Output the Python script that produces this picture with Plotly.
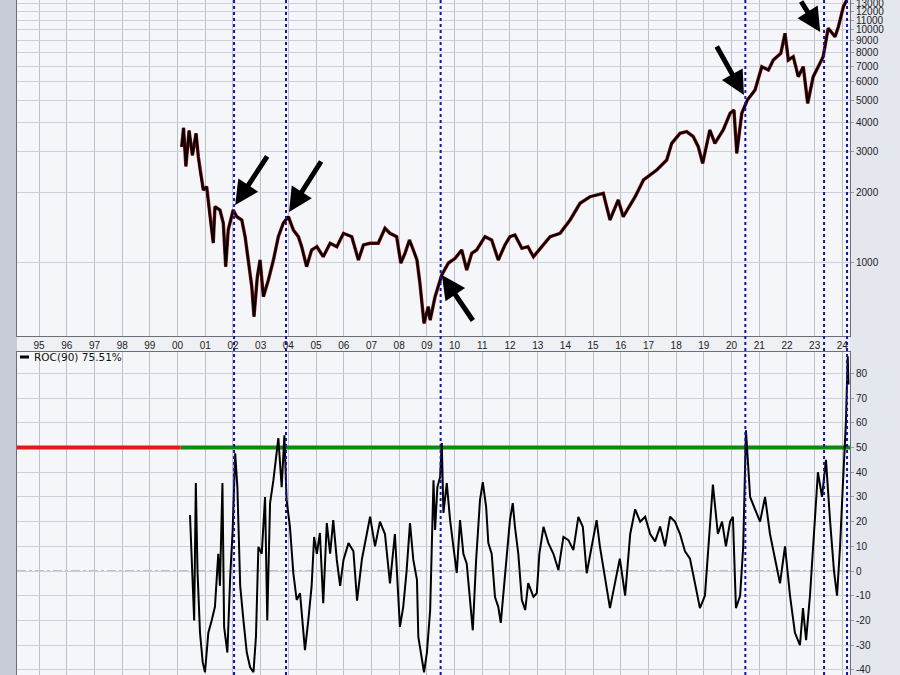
import math
import plotly.graph_objects as go

# ---------------- data ----------------
price_dates = [
    "2000-02-24", "2000-03-20", "2000-04-20", "2000-06-01", "2000-07-15", "2000-09-01",
    "2000-10-01", "2000-10-23", "2000-12-06", "2001-01-19", "2001-03-04", "2001-04-16",
    "2001-05-08", "2001-07-13", "2001-08-26", "2001-09-27", "2001-10-30", "2002-01-04",
    "2002-02-21", "2002-04-27", "2002-06-10", "2002-07-24", "2002-09-06", "2002-10-05",
    "2002-11-18", "2002-12-24", "2003-02-06", "2003-04-13", "2003-06-18", "2003-08-22",
    "2003-10-27", "2004-01-01", "2004-03-07", "2004-05-12", "2004-06-25", "2004-08-29",
    "2004-11-03", "2005-01-11", "2005-04-05", "2005-07-05", "2005-10-01", "2005-12-28",
    "2006-04-16", "2006-07-13", "2006-09-17", "2006-12-14", "2007-04-01", "2007-06-28",
    "2007-09-02", "2007-11-29", "2008-01-23", "2008-03-18", "2008-05-16", "2008-07-06",
    "2008-08-23", "2008-10-01", "2008-11-24", "2009-01-19", "2009-02-13", "2009-04-19",
    "2009-07-16", "2009-10-12", "2010-01-08", "2010-04-05", "2010-06-10", "2010-08-15",
    "2010-10-19", "2011-02-06", "2011-05-05", "2011-07-31", "2011-10-27", "2012-01-01",
    "2012-03-07", "2012-06-06", "2012-08-25", "2012-11-06", "2013-02-03", "2013-06-14",
    "2013-10-23", "2014-03-04", "2014-07-13", "2014-11-21", "2015-05-16", "2015-08-12",
    "2015-11-29", "2016-02-03", "2016-07-09", "2016-10-27", "2017-04-20", "2017-08-29",
    "2017-11-03", "2018-02-21", "2018-05-19", "2018-08-15", "2018-10-19", "2018-12-16",
    "2019-03-21", "2019-05-26", "2019-09-13", "2019-12-13", "2020-02-02", "2020-03-10",
    "2020-05-15", "2020-07-27", "2020-11-06", "2021-02-03", "2021-05-01", "2021-07-05",
    "2021-10-12", "2021-12-06", "2022-01-19", "2022-03-25", "2022-05-30", "2022-08-04",
    "2022-10-01", "2022-12-13", "2023-02-17", "2023-04-23", "2023-06-28", "2023-09-27",
    "2023-11-10", "2024-01-15", "2024-02-28",
]
price_values = [
    3150, 3800, 2600, 3700, 2900, 3600,
    2858, 2507, 2057, 2126, 1580, 1218,
    1745, 1688, 1485, 964, 1386, 1688,
    1580, 1530, 1297, 1000, 791, 588,
    873, 1030, 717, 846, 1030, 1297,
    1485, 1580, 1386, 1297, 1175, 964,
    1137, 1175, 1064, 1215, 1175, 1341,
    1297, 1030, 1195, 1215, 1215, 1409,
    1341, 1297, 1000, 1100, 1255, 1137,
    1030, 818, 551, 649, 569, 717,
    888, 1000, 1047, 1137, 933, 1100,
    1137, 1297, 1255, 1030, 1195, 1297,
    1319, 1156, 1175, 1064, 1156, 1297,
    1341, 1530, 1804, 1925, 1991, 1530,
    1864, 1580, 1925, 2271, 2507, 2767,
    3264, 3603, 3660, 3483, 3157, 2679,
    3722, 3264, 3722, 4390, 4535, 2957,
    4390, 5006, 5527, 6959, 6734, 7434,
    7943, 9679, 7434, 7682, 6304, 6959,
    4847, 6304, 6959, 7682, 10170, 9359,
    10332, 12589, 13450,
]

roc_dates = [
    "2000-06-13", "2000-07-13", "2000-08-07", "2000-08-29", "2000-09-20", "2000-10-23",
    "2000-11-28", "2000-12-28", "2001-02-10", "2001-03-26", "2001-05-08", "2001-06-21",
    "2001-07-13", "2001-08-15", "2001-09-06", "2001-10-19", "2001-11-25", "2001-12-28",
    "2002-01-30", "2002-02-28", "2002-04-06", "2002-05-19", "2002-07-02", "2002-08-15",
    "2002-09-28", "2002-10-31", "2002-12-02", "2003-01-15", "2003-02-28", "2003-03-29",
    "2003-05-05", "2003-06-18", "2003-07-24", "2003-08-22", "2003-10-05", "2003-11-10",
    "2003-12-09", "2004-01-22", "2004-03-07", "2004-04-20", "2004-06-03", "2004-07-16",
    "2004-08-07", "2004-09-20", "2004-11-03", "2004-12-06", "2005-01-11", "2005-02-20",
    "2005-04-05", "2005-05-22", "2005-07-05", "2005-08-15", "2005-10-01", "2005-11-14",
    "2005-12-28", "2006-03-04", "2006-05-08", "2006-06-25", "2006-08-29", "2006-12-14",
    "2007-02-17", "2007-04-23", "2007-06-28", "2007-09-02", "2007-11-06", "2008-01-11",
    "2008-02-24", "2008-04-08", "2008-05-23", "2008-07-06", "2008-08-23", "2008-09-10",
    "2008-10-27", "2008-11-24", "2009-01-01", "2009-02-13", "2009-03-29", "2009-04-19",
    "2009-05-19", "2009-06-24", "2009-07-16", "2009-08-07", "2009-09-20", "2009-11-03",
    "2009-12-17", "2010-01-30", "2010-03-14", "2010-04-27", "2010-06-10", "2010-07-24",
    "2010-08-29", "2010-10-12", "2010-12-02", "2011-01-08", "2011-02-21", "2011-03-22",
    "2011-05-05", "2011-06-18", "2011-07-31", "2011-09-02", "2011-10-05", "2011-11-18",
    "2012-01-01", "2012-02-07", "2012-03-07", "2012-04-20", "2012-06-06", "2012-07-20",
    "2012-08-29", "2012-11-06", "2012-12-20", "2013-01-23", "2013-03-18", "2013-05-22",
    "2013-07-27", "2013-10-01", "2013-12-06", "2014-02-10", "2014-04-16", "2014-06-21",
    "2014-08-19", "2014-10-09", "2014-12-13", "2015-02-17", "2015-04-01", "2015-08-12",
    "2015-10-16", "2015-12-20", "2016-02-28", "2016-05-05", "2016-07-09", "2016-09-13",
    "2016-11-18", "2017-01-23", "2017-03-29", "2017-06-03", "2017-08-07", "2017-10-12",
    "2017-12-16", "2018-02-21", "2018-04-27", "2018-07-02", "2018-09-06", "2018-11-10",
    "2019-01-15", "2019-03-21", "2019-04-30", "2019-07-05", "2019-08-29", "2019-10-19",
    "2019-12-13", "2020-01-19", "2020-02-28", "2020-04-23", "2020-06-03", "2020-07-09",
    "2020-09-02", "2020-11-06", "2021-01-11", "2021-03-18", "2021-05-22", "2021-07-27",
    "2021-10-01", "2021-12-06", "2022-02-10", "2022-04-16", "2022-06-21", "2022-07-31",
    "2022-09-10", "2022-10-31", "2023-01-04", "2023-02-13", "2023-04-08", "2023-05-30",
    "2023-07-24", "2023-09-13", "2023-10-23", "2023-12-02", "2024-01-08", "2024-02-17",
    "2024-03-12", "2024-03-22",
]
roc_values = [
    22.7, 3, -20, 35.6, 0, -25,
    -37, -41, -25, -20, -14.5, 7,
    -6, 35.6, -22.6, -33, -2.4, 16.6,
    47.7, 34, -6, -20, -33, -39,
    -41, -26.6, 9.8, 7, 30, -20,
    27.5, 36.8, 46, 53.8, 34, 55,
    28.7, 17.9, -0.9, -11.7, -9, -22.6,
    -32, -20, -6, 13.8, 7, 15.4,
    -13, 19.4, 7, 20.6, 4.5, -6,
    4.5, 11.3, 8, -12, 5, 22,
    10, 20, 15, -5, 15, -22.6,
    -14.5, 0, 19.4, 4.5, -3.6, -26.7,
    -36, -41, -33, -15.8, 36.8, 16.6,
    34, 38, 51.8, 23.5, 35.6, 20.6,
    9.7, -0.8, 20.6, 7, 3, -10.5,
    -24, 4.5, 28.7, 36, 26, 11.3,
    7, -10.5, -14.5, -21, -9, 4.5,
    20.6, 27.5, 17.9, 7, -11.7, -15.8,
    -4.9, -10.5, -9, 7, 17.9, 11.3,
    7, 0.4, 13.8, 12.5, 8.5, 21.9,
    17.9, -0.9, 9.7, 20.6, 10, -15,
    -5, 5, -10, 15, 25, 20,
    22, 15, 12, 18, 10, 22,
    20, 15, 8, 5, -5, -15,
    -10, 18, 35, 15, 20, 10,
    20, 22, -15, -10, 10, 57,
    30, 25, 20, 30, 15, 5,
    -5, 10, -10, -25, -30, -15,
    -28, -10, 20, 40, 30, 45,
    20, 0, -10, 10, 35, 60,
    87, 75.51,
]

signal_dates = ["2002-01-15", "2003-12-01", "2009-07-01", "2020-07-01", "2023-05-05", "2024-03-03"]

arrow_dates = ["2002-01-30", "2004-01-10", "2009-07-18", "2020-06-12", "2023-03-15"]
arrow_prices = [1774, 1655, 888, 5260, 9800]
arrow_dx = [33, 33, 32, -28, -20]
arrow_dy = [-50, -52, 47, -50, -36]

threshold = 50
red_dates = ["1994-03-16", "2000-02-10"]
green_dates = ["2000-02-10", "2024-04-11"]

price_ticks = [1000, 2000, 3000, 4000, 5000, 6000, 7000, 8000, 9000, 10000, 11000, 12000, 13000]
roc_ticks = [-40, -30, -20, -10, 0, 10, 20, 30, 40, 50, 60, 70, 80]

x_range = ["1994-03-16", "2024-04-11"]

# ---------------- figure ----------------
FONT = "Liberation Sans, Arial, sans-serif"
GRID = "#cdd0d9"
VGRID = "#bcc0c9"
AXLINE = "#6b6f78"

fig = go.Figure()

fig.add_trace(go.Scatter(x=price_dates, y=price_values, mode="lines",
                         line=dict(color="#a01010", width=3.4), xaxis="x", yaxis="y",
                         hoverinfo="skip", showlegend=False))
fig.add_trace(go.Scatter(x=price_dates, y=price_values, mode="lines",
                         line=dict(color="#000000", width=2.2), xaxis="x", yaxis="y",
                         showlegend=False))

fig.add_trace(go.Scatter(x=red_dates, y=[threshold, threshold], mode="lines",
                         line=dict(color="#e8181a", width=4), xaxis="x2", yaxis="y2",
                         showlegend=False))
fig.add_trace(go.Scatter(x=green_dates, y=[threshold, threshold], mode="lines",
                         line=dict(color="#0b8a0b", width=4), xaxis="x2", yaxis="y2",
                         showlegend=False))
fig.add_trace(go.Scatter(x=roc_dates, y=roc_values, mode="lines",
                         line=dict(color="#000000", width=2), xaxis="x2", yaxis="y2",
                         showlegend=False))

shapes = []
shapes.append(dict(type="rect", xref="paper", yref="paper", x0=-17 / 833, x1=0, y0=0, y1=1,
                   fillcolor="#c6cbd7", line=dict(width=0), layer="below"))
shapes.append(dict(type="rect", xref="paper", yref="paper", x0=0, x1=1,
                   y0=1 - 352 / 675, y1=1 - 336 / 675,
                   fillcolor="#eff0f4", line=dict(width=0), layer="below"))
shapes.append(dict(type="line", xref="x2 domain", yref="y2", x0=0, x1=1, y0=0, y1=0,
                   line=dict(color="#80838a", width=1, dash="dashdot"), layer="below"))
for d in signal_dates:
    shapes.append(dict(type="line", xref="x", yref="paper", x0=d, x1=d, y0=0, y1=1,
                       line=dict(color="#1515a0", width=2, dash="3px,3px")))
shapes.append(dict(type="line", xref="paper", yref="paper",
                   x0=3 / 833, x1=12 / 833, y0=1 - 357 / 675, y1=1 - 357 / 675,
                   line=dict(color="#000000", width=3)))

annotations = []
for d, p, dx, dy in zip(arrow_dates, arrow_prices, arrow_dx, arrow_dy):
    annotations.append(dict(x=d, y=math.log10(p), xref="x", yref="y", text="",
                            showarrow=True, ax=dx, ay=dy, arrowhead=2, arrowsize=0.95,
                            arrowwidth=5, arrowcolor="#000000", standoff=0))
annotations.append(dict(x=15 / 833, y=1 - 357 / 675, xref="paper", yref="paper",
                        text="ROC(90) 75.51%", showarrow=False, xanchor="left",
                        yanchor="middle",
                        font=dict(family="DejaVu Sans, Verdana, sans-serif", size=10.5,
                                  color="#111111")))

fig.update_layout(
    template="none",
    width=900, height=675,
    margin=dict(l=17, r=50, t=0, b=0, autoexpand=False),
    paper_bgcolor="#e4e7ee",
    plot_bgcolor="#f4f6fa",
    showlegend=False,
    shapes=shapes,
    annotations=annotations,
    font=dict(family=FONT, size=10, color="#222"),
    xaxis=dict(domain=[0, 1], anchor="y", type="date", range=x_range, automargin=False,
               tick0="1995-01-01", dtick="M12", tickformat="%y",
               showgrid=True, gridcolor=VGRID, gridwidth=1,
               ticks="", tickfont=dict(family=FONT, size=10, color="#222"),
               showline=True, mirror=True, linecolor=AXLINE, linewidth=1,
               zeroline=False),
    xaxis2=dict(domain=[0, 1], anchor="y2", type="date", matches="x", automargin=False,
                tick0="1995-01-01", dtick="M12",
                showgrid=True, gridcolor=VGRID, gridwidth=1,
                showticklabels=False, ticks="",
                showline=True, mirror=True, linecolor=AXLINE, linewidth=1,
                zeroline=False),
    yaxis=dict(domain=[1 - 336 / 675, 1], anchor="x", type="log", automargin=False,
               range=[math.log10(486), math.log10(13450)],
               side="right", tickvals=price_ticks, ticktext=[str(v) for v in price_ticks],
               showgrid=True, gridcolor=GRID, gridwidth=1,
               ticks="outside", ticklen=3, tickcolor="#9a9ea8",
               ticklabeloverflow="allow",
               tickfont=dict(family=FONT, size=10, color="#222"),
               showline=True, mirror=True, linecolor=AXLINE, linewidth=1,
               zeroline=False),
    yaxis2=dict(domain=[0, 1 - 352 / 675], anchor="x2", automargin=False,
                range=[-42.1, 88.7], side="right", tickvals=roc_ticks,
                ticktext=[str(v) for v in roc_ticks],
                showgrid=True, gridcolor=GRID, gridwidth=1,
                ticks="outside", ticklen=3, tickcolor="#9a9ea8",
                ticklabeloverflow="allow",
                tickfont=dict(family=FONT, size=10, color="#222"),
                showline=True, mirror=True, linecolor=AXLINE, linewidth=1,
                zeroline=False),
)

fig.write_html("out.html", config={"displayModeBar": False},
               post_script="document.body.style.margin='0px';")
